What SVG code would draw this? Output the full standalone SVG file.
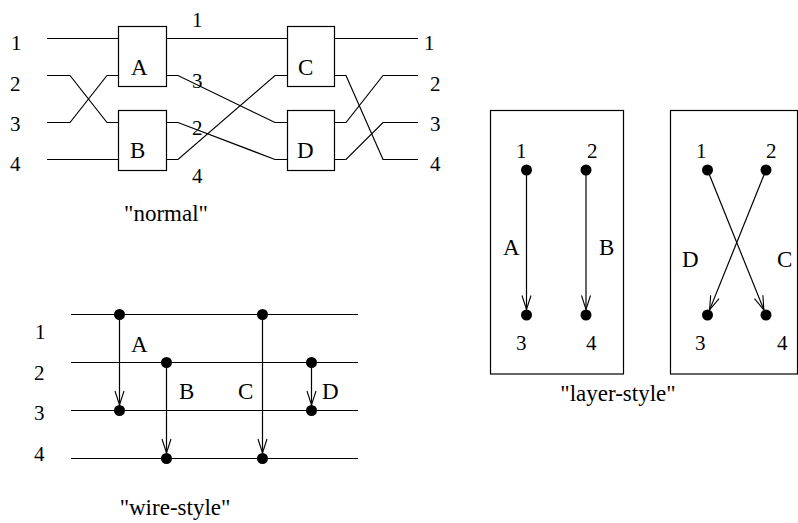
<svg xmlns="http://www.w3.org/2000/svg" width="798" height="523" viewBox="0 0 798 523">
  <style>
    text { font-family: "Liberation Serif", "Times New Roman", Times, "Nimbus Roman", "DejaVu Serif", "Noto Serif", serif; fill: #000; }
    .num { font-size: 21px; }
    .lbl { font-size: 23px; }
    .cap { font-size: 23px; text-anchor: middle; }
    .wire { fill: none; stroke: #000; stroke-width: 1.2; }
    .box { fill: #fff; stroke: #000; stroke-width: 1.2; }
    .arc { fill: none; stroke: #000; stroke-width: 1.2; marker-end: url(#vhead); }
    .dot { fill: #000; }
  </style>
  <defs>
    <marker id="vhead" markerUnits="userSpaceOnUse" markerWidth="16" markerHeight="12" refX="14" refY="4.5" orient="auto" overflow="visible">
      <path d="M0,0 L14,4.5 L0,9" fill="none" stroke="#000" stroke-width="1.1"/>
    </marker>
  </defs>

  <!-- "normal": boxes and wires -->
  <g id="normal">
    <g id="normal-connectors">
      <path class="wire" d="M47,38.5 H118.5"/>
      <path class="wire" d="M47,75.5 H70 L107,122.5 H118.5"/>
      <path class="wire" d="M47,122.5 H70 L107,75.5 H118.5"/>
      <path class="wire" d="M47,159.5 H118.5"/>
      <path class="wire" d="M166.5,38.5 H287.5"/>
      <path class="wire" d="M166.5,75.5 H178 L275,122.5 H287.5"/>
      <path class="wire" d="M166.5,122.5 H178 L275,159.5 H287.5"/>
      <path class="wire" d="M166.5,159.5 H178 L275,75.5 H287.5"/>
      <path class="wire" d="M334.5,38.5 H418"/>
      <path class="wire" d="M334.5,75.5 H346 L383,159.5 H418"/>
      <path class="wire" d="M334.5,122.5 H346 L383,75.5 H418"/>
      <path class="wire" d="M334.5,159.5 H346 L383,122.5 H418"/>
    </g>
    <g id="box-A"><rect class="box" x="118.5" y="26.5" width="48" height="60"/><text class="lbl" x="131" y="75">A</text></g>
    <g id="box-B"><rect class="box" x="118.5" y="110.5" width="48" height="60"/><text class="lbl" x="130" y="158">B</text></g>
    <g id="box-C"><rect class="box" x="287.5" y="26.5" width="47" height="60"/><text class="lbl" x="298" y="75">C</text></g>
    <g id="box-D"><rect class="box" x="287.5" y="110.5" width="47" height="60"/><text class="lbl" x="297" y="158">D</text></g>
    <g id="normal-labels" class="num">
      <text x="11" y="50">1</text>
      <text x="10" y="91">2</text>
      <text x="10" y="131">3</text>
      <text x="10" y="171">4</text>
      <text x="424" y="50">1</text>
      <text x="430" y="91">2</text>
      <text x="430" y="131">3</text>
      <text x="430" y="171">4</text>
      <text x="192" y="27">1</text>
      <text x="192" y="88">3</text>
      <text x="192" y="135">2</text>
      <text x="192" y="183">4</text>
    </g>
    <text class="cap" x="166" y="221">"normal"</text>
  </g>

  <!-- "wire-style": horizontal wires with gate arrows -->
  <g id="wire-style">
    <g id="wire-lines">
      <path class="wire" d="M71,314.5 H358"/>
      <path class="wire" d="M71,362.5 H358"/>
      <path class="wire" d="M71,410.5 H358"/>
      <path class="wire" d="M71,458.5 H358"/>
    </g>
    <g id="wire-connectors">
      <path class="arc" d="M119.5,314.5 V405"/>
      <path class="arc" d="M166.5,362.5 V453"/>
      <path class="arc" d="M262.5,314.5 V453"/>
      <path class="arc" d="M311.5,362.5 V405"/>
    </g>
    <g id="wire-gate-A"><circle class="dot" cx="119.5" cy="314.5" r="5.5"/><circle class="dot" cx="119.5" cy="410.5" r="5.5"/><text class="lbl" x="131" y="352">A</text></g>
    <g id="wire-gate-B"><circle class="dot" cx="166.5" cy="362.5" r="5.5"/><circle class="dot" cx="166.5" cy="458.5" r="5.5"/><text class="lbl" x="179" y="399">B</text></g>
    <g id="wire-gate-C"><circle class="dot" cx="262.5" cy="314.5" r="5.5"/><circle class="dot" cx="262.5" cy="458.5" r="5.5"/><text class="lbl" x="238" y="399">C</text></g>
    <g id="wire-gate-D"><circle class="dot" cx="311.5" cy="362.5" r="5.5"/><circle class="dot" cx="311.5" cy="410.5" r="5.5"/><text class="lbl" x="322" y="399">D</text></g>
    <g id="wire-labels" class="num">
      <text x="35" y="339">1</text>
      <text x="34" y="380">2</text>
      <text x="34" y="420">3</text>
      <text x="34" y="461">4</text>
    </g>
    <text class="cap" x="175" y="515">"wire-style"</text>
  </g>

  <!-- "layer-style": two layers, each a box of arrows between nodes -->
  <g id="layer-style">
    <g id="layer-1">
      <rect class="box" x="490.5" y="110.5" width="133" height="263.5"/>
      <g id="layer-1-connectors">
        <path class="arc" d="M526.5,170 V309.5"/>
        <path class="arc" d="M586,170 V309.5"/>
      </g>
      <circle class="dot" cx="526.5" cy="170" r="5.5"/>
      <circle class="dot" cx="586" cy="170" r="5.5"/>
      <circle class="dot" cx="526.5" cy="315" r="5.5"/>
      <circle class="dot" cx="586" cy="315" r="5.5"/>
      <g class="num">
        <text x="516" y="158">1</text>
        <text x="587" y="158">2</text>
        <text x="516" y="350">3</text>
        <text x="586" y="350">4</text>
      </g>
      <text class="lbl" x="503" y="255">A</text>
      <text class="lbl" x="599" y="255">B</text>
    </g>
    <g id="layer-2">
      <rect class="box" x="670.5" y="110.5" width="127" height="263.5"/>
      <g id="layer-2-connectors">
        <path class="arc" d="M707.5,170 L763.9,309.9"/>
        <path class="arc" d="M766,170 L709.6,309.9"/>
      </g>
      <circle class="dot" cx="707.5" cy="170" r="5.5"/>
      <circle class="dot" cx="766" cy="170" r="5.5"/>
      <circle class="dot" cx="707.5" cy="315" r="5.5"/>
      <circle class="dot" cx="766" cy="315" r="5.5"/>
      <g class="num">
        <text x="696" y="158">1</text>
        <text x="766" y="158">2</text>
        <text x="695" y="350">3</text>
        <text x="777" y="350">4</text>
      </g>
      <text class="lbl" x="682" y="267">D</text>
      <text class="lbl" x="777" y="267">C</text>
    </g>
    <text class="cap" x="618" y="401">"layer-style"</text>
  </g>
</svg>
